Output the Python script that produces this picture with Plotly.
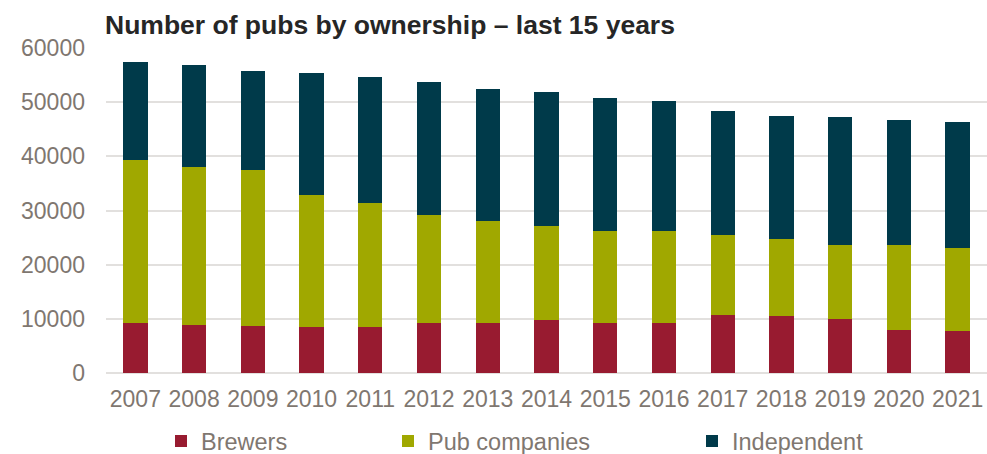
import plotly.graph_objects as go

# Pub counts by ownership type, 2007-2021
years = ["2007", "2008", "2009", "2010", "2011", "2012", "2013", "2014",
         "2015", "2016", "2017", "2018", "2019", "2020", "2021"]
brewers = [9200, 8900, 8700, 8500, 8500, 9200, 9200, 9700,
           9200, 9200, 10800, 10600, 9900, 8000, 7800]
pub_companies = [30100, 29100, 28700, 24300, 22800, 19900, 18900, 17500,
                 17000, 17000, 14700, 14200, 13700, 15600, 15300]
independent = [18100, 18900, 18400, 22500, 23300, 24600, 24400, 24600,
               24600, 24100, 22800, 22700, 23700, 23200, 23200]

FONT = "Liberation Sans, Arial, sans-serif"
TICK_GREY = "#7f7770"
GRID = "#e2e0de"

series = [
    ("Brewers", brewers, "#981b30", "legend"),
    ("Pub companies", pub_companies, "#a0a800", "legend2"),
    ("Independent", independent, "#003a4a", "legend3"),
]

fig = go.Figure()
for name, vals, color, leg in series:
    fig.add_trace(go.Bar(
        x=years, y=vals, name=name,
        marker=dict(color=color, line=dict(width=0)),
        legend=leg, showlegend=True,
    ))

legend_common = dict(
    orientation="h", xref="container", yref="container",
    yanchor="middle", y=0.028, xanchor="left",
    bgcolor="rgba(0,0,0,0)", borderwidth=0,
    font=dict(family=FONT, size=23.5, color=TICK_GREY),
    visible=True,
)

fig.update_layout(
    width=987, height=454,
    margin=dict(l=106, r=0, t=48, b=81),
    paper_bgcolor="white", plot_bgcolor="white",
    barmode="stack", bargap=0.586,
    showlegend=True,
    title=dict(
        text="<b>Number of pubs by ownership – last 15 years</b>",
        font=dict(family=FONT, size=26.5, color="#262626"),
        xref="container", x=105 / 987, xanchor="left",
        yref="container", y=1 - 25 / 454, yanchor="middle",
    ),
    legend=dict(**legend_common, x=161 / 987),
    legend2=dict(**legend_common, x=388 / 987),
    legend3=dict(**legend_common, x=692 / 987),
    xaxis=dict(
        tickfont=dict(family=FONT, size=23, color=TICK_GREY),
        showgrid=False, showline=False, ticks="",
        ticklabelstandoff=10,
    ),
    yaxis=dict(
        range=[0, 60000], dtick=10000, tickformat="d",
        tickfont=dict(family=FONT, size=23, color=TICK_GREY),
        showgrid=True, gridcolor=GRID, gridwidth=2,
        zeroline=True, zerolinecolor=GRID, zerolinewidth=2,
        showline=False, ticks="", ticklabelstandoff=20,
    ),
)

fig.write_html("out.html")
